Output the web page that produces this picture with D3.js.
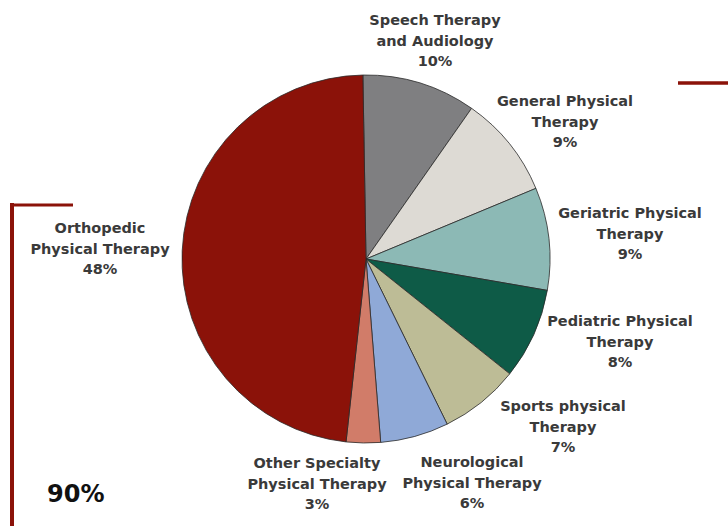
<!DOCTYPE html>
<html>
<head>
<meta charset="utf-8">
<script src="https://cdn.jsdelivr.net/npm/d3@7"></script>
<style>
  html, body { margin: 0; padding: 0; background: #fff; }
  svg { display: block; }
  text { font-family: "DejaVu Sans", sans-serif; font-weight: bold; fill: #3a3a3a; }
</style>
</head>
<body>
<svg id="chart" width="728" height="526"></svg>
<script>
const categories = [
  "Speech Therapy|and Audiology",
  "General Physical|Therapy",
  "Geriatric Physical|Therapy",
  "Pediatric Physical|Therapy",
  "Sports physical|Therapy",
  "Neurological|Physical Therapy",
  "Other Specialty|Physical Therapy",
  "Orthopedic|Physical Therapy"
];
const values = [10, 9, 9, 8, 7, 6, 3, 48];
const colors = ["#7f7f81", "#dddad4", "#8cb9b5", "#0e5b47", "#bdbc96", "#8fa9d7", "#d17c69", "#8b1209"];
// label anchor positions (center x, first-line y)
const labelPos = [[435, 25], [565, 106], [630, 218], [620, 326], [563, 411], [472, 467], [317, 468], [100, 233]];
const headline = "90%";

const svg = d3.select("#chart");
const cx = 366, cy = 259, r = 184;

const pie = d3.pie().sort(null).value(d => d).startAngle(-0.017).endAngle(2 * Math.PI - 0.017);
const arc = d3.arc().innerRadius(0).outerRadius(r);

const g = svg.append("g").attr("transform", `translate(${cx},${cy})`);
g.selectAll("path")
  .data(pie(values))
  .join("path")
  .attr("d", arc)
  .attr("fill", (d, i) => colors[i])
  .attr("stroke", "#2a2a2a")
  .attr("stroke-width", 0.8);

// labels
categories.forEach((c, i) => {
  const lines = c.split("|").concat([values[i] + "%"]);
  const t = svg.append("text")
    .attr("text-anchor", "middle")
    .attr("font-size", 14.5);
  lines.forEach((ln, j) => {
    t.append("tspan")
      .attr("x", labelPos[i][0])
      .attr("y", labelPos[i][1] + j * 20.5)
      .text(ln);
  });
});

// decorative brackets
const red = "#8b1209";
svg.append("line").attr("x1", 678).attr("x2", 728).attr("y1", 83).attr("y2", 83)
  .attr("stroke", red).attr("stroke-width", 3.5);
svg.append("line").attr("x1", 12).attr("x2", 12).attr("y1", 203).attr("y2", 526)
  .attr("stroke", red).attr("stroke-width", 4);
svg.append("line").attr("x1", 10).attr("x2", 73).attr("y1", 205).attr("y2", 205)
  .attr("stroke", red).attr("stroke-width", 3);

svg.append("text")
  .attr("x", 47).attr("y", 502)
  .attr("font-size", 24)
  .style("fill", "#111")
  .text(headline);
</script>
</body>
</html>
